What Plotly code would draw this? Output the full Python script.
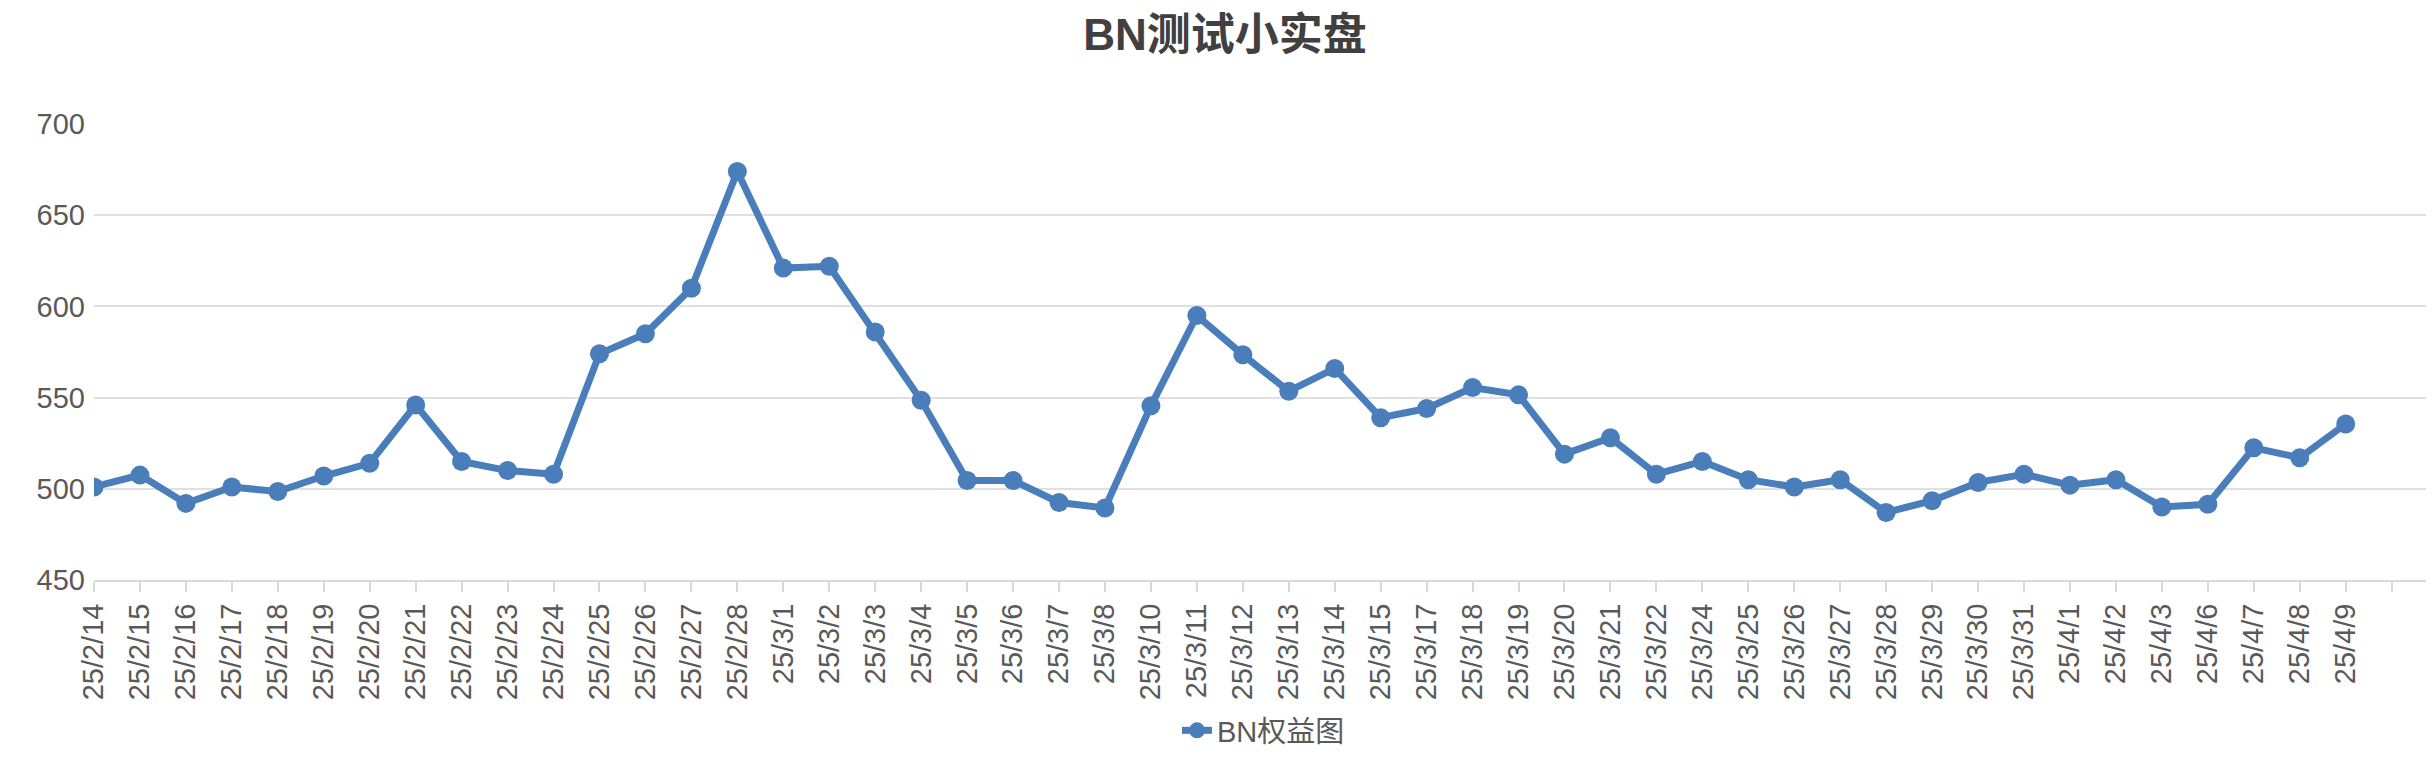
import plotly.graph_objects as go

# dates and equity values
dates = ["25/2/14", "25/2/15", "25/2/16", "25/2/17", "25/2/18", "25/2/19", "25/2/20",
         "25/2/21", "25/2/22", "25/2/23", "25/2/24", "25/2/25", "25/2/26", "25/2/27",
         "25/2/28", "25/3/1", "25/3/2", "25/3/3", "25/3/4", "25/3/5", "25/3/6", "25/3/7",
         "25/3/8", "25/3/10", "25/3/11", "25/3/12", "25/3/13", "25/3/14", "25/3/15",
         "25/3/17", "25/3/18", "25/3/19", "25/3/20", "25/3/21", "25/3/22", "25/3/24",
         "25/3/25", "25/3/26", "25/3/27", "25/3/28", "25/3/29", "25/3/30", "25/3/31",
         "25/4/1", "25/4/2", "25/4/3", "25/4/6", "25/4/7", "25/4/8", "25/4/9"]
equity = [501, 507.5, 492, 501, 498.5, 507, 514, 546, 515, 510, 508, 574, 585, 610,
          674, 621, 622, 586, 548.5, 504.5, 504.5, 492.5, 489.5, 545.5, 595, 573.5,
          553.5, 566, 539, 544, 555.5, 551.5, 519, 528, 508, 515, 505, 501, 505, 487,
          493.5, 503.5, 508, 502, 505, 490, 491.5, 522.5, 517, 535.5]

idx = list(range(len(dates)))
color = "#4a7ebb"

fig = go.Figure(go.Scatter(
    x=idx, y=equity, mode="lines+markers", name="BN权益图",
    line=dict(color=color, width=7),
    marker=dict(color=color, size=19),
))

fig.update_layout(
    title=dict(text="<b>BN测试小实盘</b>", x=0.5, y=0.965, xanchor="center",
               yanchor="middle", font=dict(size=44, color="#404040")),
    font=dict(family="Liberation Sans, Noto Sans CJK SC", color="#595959", size=29),
    paper_bgcolor="white",
    plot_bgcolor="white",
    width=2434, height=766,
    margin=dict(l=86, r=9, t=116, b=194),
    showlegend=True,
    legend=dict(orientation="h", x=0.5, xanchor="center", y=-0.33, yanchor="middle",
                font=dict(size=29)),
    xaxis=dict(
        tickmode="array", tickvals=idx + [len(dates)], ticktext=dates + [""],
        range=[0, len(dates) + 0.9], tickangle=-90,
        showgrid=False, showline=True, linecolor="#d9d9d9", linewidth=2,
        ticks="outside", tickcolor="#d9d9d9", ticklen=10, tickwidth=2,
        zeroline=False,
    ),
    yaxis=dict(
        range=[450, 700], dtick=50, showgrid=True, gridcolor="#e0e0e0", gridwidth=2,
        zeroline=False, ticks="", ticklabelstandoff=8,
    ),
)

fig.write_html("out.html")
